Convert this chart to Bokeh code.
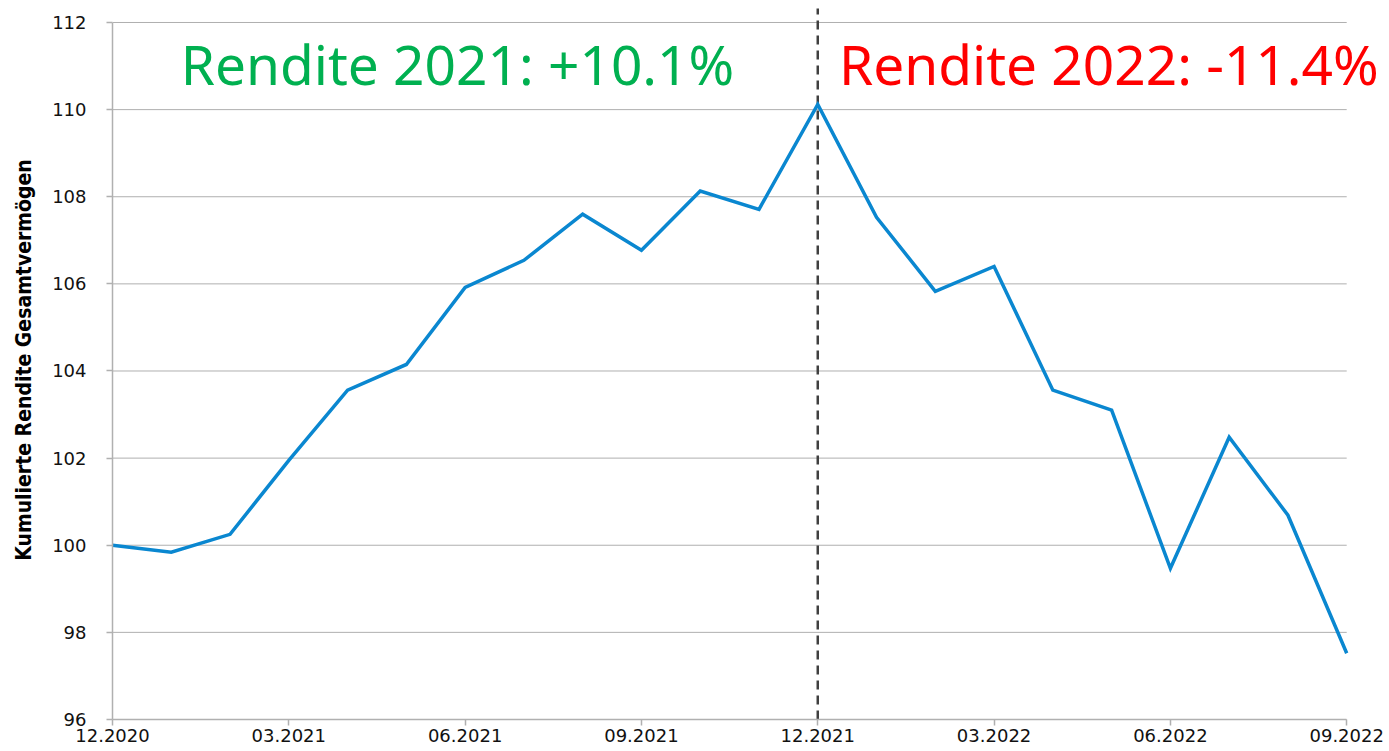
from bokeh.plotting import figure
from bokeh.models import Range1d, FixedTicker, Label
from bokeh.embed import file_html
from bokeh.resources import INLINE

months = ["12.2020", "01.2021", "02.2021", "03.2021", "04.2021", "05.2021", "06.2021",
          "07.2021", "08.2021", "09.2021", "10.2021", "11.2021", "12.2021", "01.2022",
          "02.2022", "03.2022", "04.2022", "05.2022", "06.2022", "07.2022", "08.2022", "09.2022"]
values = [100.0, 99.84, 100.25, 101.95, 103.56, 104.15, 105.92, 106.54, 107.6, 106.77,
          108.13, 107.71, 110.12, 107.53, 105.83, 106.4, 103.56, 103.1, 99.47, 102.48,
          100.69, 97.52]
tick_months = ["12.2020", "03.2021", "06.2021", "09.2021", "12.2021", "03.2022", "06.2022", "09.2022"]
y_ticks = [96, 98, 100, 102, 104, 106, 108, 110, 112]
label_2021 = "Rendite 2021: +10.1%"
label_2022 = "Rendite 2022: -11.4%"
y_title = "Kumulierte Rendite Gesamtvermögen"

n = len(months)
xs = list(range(n))
tick_idx = [months.index(m) for m in tick_months]
x_last = n - 1

p = figure(width=1385, height=749, output_backend="svg", toolbar_location=None,
           x_range=Range1d(0, x_last + 0.66), y_range=Range1d(96, 112.505),
           min_border_left=112, min_border_right=0, min_border_top=0, min_border_bottom=30)
p.outline_line_color = None
p.background_fill_color = "white"

grey = "#b0b0b0"
p.xgrid.grid_line_color = None
p.ygrid.grid_line_color = None

# horizontal gridlines limited to the data span
p.segment(x0=[0] * len(y_ticks), y0=y_ticks, x1=[x_last] * len(y_ticks), y1=y_ticks,
          line_color=grey, line_width=1)

p.xaxis.ticker = FixedTicker(ticks=tick_idx)
p.xaxis.major_label_overrides = {i: months[i] for i in tick_idx}
p.xaxis.bounds = (0, x_last)
p.yaxis.ticker = FixedTicker(ticks=y_ticks)
p.yaxis.bounds = (96, 112)

for ax in (p.xaxis[0], p.yaxis[0]):
    ax.axis_line_color = grey
    ax.axis_line_width = 1.5
    ax.major_tick_line_color = grey
    ax.major_tick_line_width = 1.5
    ax.major_tick_in = 0
    ax.major_tick_out = 6
    ax.minor_tick_line_color = None
    ax.major_label_text_font = "DejaVu Sans"
    ax.major_label_text_font_size = "18px"
    ax.major_label_text_color = "#111111"

p.xaxis.major_label_standoff = 3
p.yaxis.major_label_standoff = 20
p.yaxis.axis_label = y_title
p.yaxis.axis_label_text_font = "DejaVu Sans Condensed"
p.yaxis.axis_label_text_font_style = "bold"
p.yaxis.axis_label_text_font_size = "21px"
p.yaxis.axis_label_text_color = "black"
p.yaxis.axis_label_standoff = 13

p.segment(x0=[months.index("12.2021")], y0=[96], x1=[months.index("12.2021")], y1=[112.32],
          line_color="#404040", line_width=2.5, line_dash="9 6")

p.line(xs, values, line_color="#0a87d0", line_width=3.5, line_join="miter")

p.add_layout(Label(x=1.16, y=111.05, text=label_2021, text_color="#00b050",
                   text_font="Noto Sans", text_font_size="55px", text_baseline="alphabetic"))
p.add_layout(Label(x=12.36, y=111.05, text=label_2022, text_color="#ff0000",
                   text_font="Noto Sans", text_font_size="55px", text_baseline="alphabetic"))

open("out.html", "w").write(file_html(p, INLINE))
